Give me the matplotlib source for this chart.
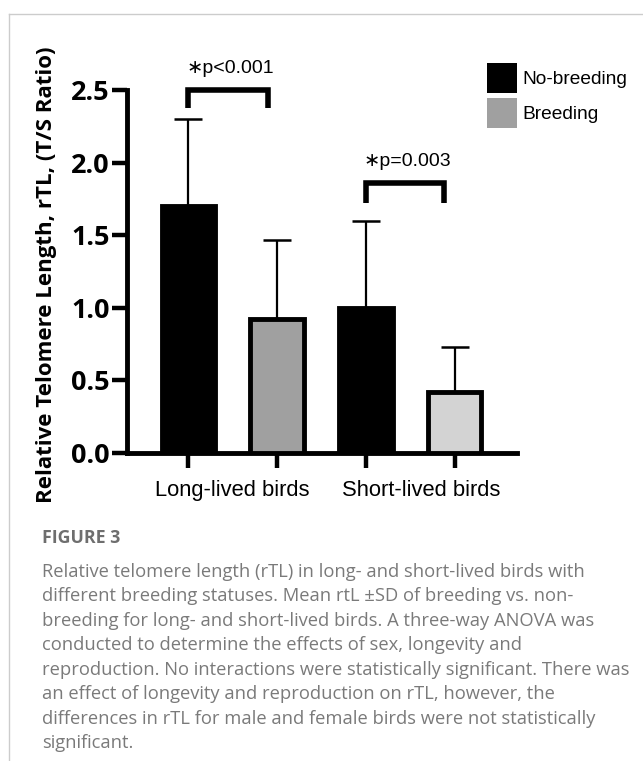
import matplotlib.pyplot as plt
from matplotlib.patches import Patch
from matplotlib.lines import Line2D

# data
groups = ["Long-lived birds", "Short-lived birds"]
group_x = [0.49, 2.62]
status = ["No-breeding", "Breeding"]
means = [1.70, 0.92, 1.00, 0.42]
sds = [0.60, 0.55, 0.60, 0.31]
fills = ["#000000", "#a0a0a0", "#000000", "#d3d3d3"]
pvals = ["\u2217p<0.001", "\u2217p=0.003"]
brackets = [(0, 0.9, 2.5, 2.376), (2, 2.88, 1.86, 1.72)]

caption = ("Relative telomere length (rTL) in long- and short-lived birds with\n"
           "different breeding statuses. Mean rtL \u00b1SD of breeding vs. non-\n"
           "breeding for long- and short-lived birds. A three-way ANOVA was\n"
           "conducted to determine the effects of sex, longevity and\n"
           "reproduction. No interactions were statistically significant. There was\n"
           "an effect of longevity and reproduction on rTL, however, the\n"
           "differences in rTL for male and female birds were not statistically\n"
           "significant.")

fig = plt.figure(figsize=(6.43, 7.61), dpi=100)
ax = fig.add_axes([127 / 643, 1 - 453 / 761, 390 / 643, 363 / 761])

xs = range(len(means))
ax.bar(xs, means, width=0.6, color=fills, edgecolor="black", linewidth=3.5, zorder=3)
ax.errorbar(xs, means, yerr=[[0] * 4, sds], fmt="none", ecolor="black",
            elinewidth=1.6, capsize=10.4, capthick=1.8, zorder=2)

ax.set_xlim(-0.69, 3.70)
ax.set_ylim(0, 2.5)
yt = [0, 0.5, 1.0, 1.5, 2.0, 2.5]
ax.set_yticks(yt)
ax.set_yticklabels([f"{v:.1f}" for v in yt], fontfamily="Open Sans",
                   fontweight="bold", fontsize=19.5)
ax.set_xticks(list(xs))
ax.set_xticklabels([])
ax.tick_params(axis="y", length=10.5, width=3.2, pad=2)
ax.tick_params(axis="x", length=11, width=3.2)
for s in ["top", "right"]:
    ax.spines[s].set_visible(False)
for s in ["left", "bottom"]:
    ax.spines[s].set_linewidth(3.5)
ax.spines["left"].set_bounds(0, 2.5)

for gx, g in zip(group_x, groups):
    ax.text(gx, -0.255, g, ha="center", va="center", fontsize=15.8,
            fontfamily="Liberation Sans", clip_on=False)

ax.set_ylabel("Relative Telomere Length, rTL, (T/S Ratio)", fontfamily="Open Sans",
              fontweight="bold", fontsize=16)
ax.yaxis.set_label_coords(-0.18, 0.49)

for (x0, x1, top, bot), p in zip(brackets, pvals):
    ax.plot([x0, x0, x1, x1], [bot, top, top, bot], color="black", lw=4,
            solid_joinstyle="miter", solid_capstyle="butt", clip_on=False)
    ax.text((x0 + x1) / 2 + 0.02, top + 0.145, p, ha="center", va="center",
            fontsize=14, family=["Liberation Sans", "DejaVu Sans"], clip_on=False)

handles = [Patch(facecolor=fills[0]), Patch(facecolor=fills[1])]
fig.legend(handles, status, loc="upper left", bbox_to_anchor=(487 / 643, 1 - 63 / 761),
           frameon=False, borderpad=0, borderaxespad=0,
           prop={"family": "Liberation Sans", "size": 13.8},
           handlelength=1.56, handleheight=2.0, handletextpad=0.31, labelspacing=0.3)

# caption
fig.text(42 / 643, 1 - 538 / 761, "FIGURE 3", fontfamily="Open Sans", fontweight="bold",
         fontsize=12.8, color="#6e6e6e", va="center")
fig.text(42 / 643, 1 - 563 / 761, caption, fontfamily="Open Sans", fontsize=13.2,
         color="#7a7a7a", va="top", linespacing=1.46)

# panel frame
fig.add_artist(Line2D([9 / 643, 1], [1 - 14 / 761] * 2, color="#cccccc", lw=1))
fig.add_artist(Line2D([9 / 643] * 2, [0, 1 - 14 / 761], color="#cccccc", lw=1))

fig.savefig("out.png", dpi=100)
